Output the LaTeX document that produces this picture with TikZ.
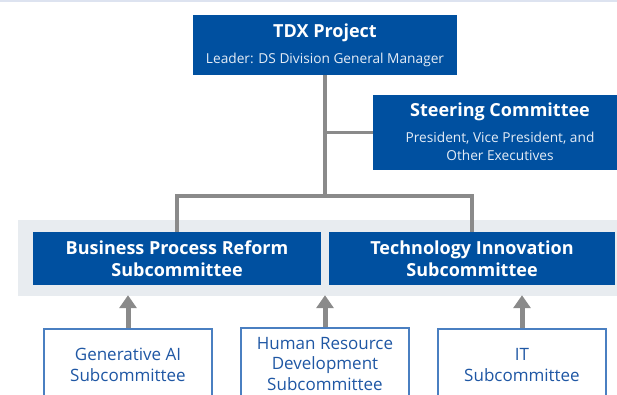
\documentclass[tikz,border=0pt]{standalone}
\usepackage{fontspec}
\setmainfont{Open Sans}
\usetikzlibrary{arrows.meta}
\definecolor{boxblue}{HTML}{0050A0}
\definecolor{bandgray}{HTML}{E8ECF0}
\definecolor{linegray}{HTML}{8A8A8A}
\definecolor{edgeblue}{HTML}{4A7FC1}
\definecolor{textblue}{HTML}{1F57A4}
\definecolor{subwhite}{HTML}{E4ECF6}
\definecolor{topline}{HTML}{DDE3F0}
\tikzset{
  bluebox/.style={fill=boxblue, draw=none, text=white, align=center, inner sep=0pt},
  subbox/.style={draw=edgeblue, line width=1.6bp, fill=white, text=textblue, align=center,
    minimum width=168bp, minimum height=72bp, inner sep=0pt, font=\fontsize{17bp}{20.5bp}\selectfont},
  conn/.style={draw=linegray, line width=3.5bp},
  uparrow/.style={draw=linegray, line width=5bp, -{Triangle[width=17bp,length=13bp]}},
  boldtitle/.style={font=\bfseries\fontsize{18bp}{22bp}\selectfont},
}
\begin{document}
\begin{tikzpicture}[x=1bp,y=-1bp]
\useasboundingbox (0,0) rectangle (617,394);
\fill[topline] (0,0) rectangle (617,1.5);
% band
\node[fill=bandgray, minimum width=599bp, minimum height=76bp, inner sep=0pt] (band) at (317.5,258) {};
% top box
\node[bluebox, minimum width=264bp, minimum height=60bp] (tdx) at (325,45) {};
\node[text=white, boldtitle] (tdxt) at (325,33) {TDX Project};
\node[text=subwhite, font=\fontsize{13.7bp}{16bp}\selectfont] (tdxs) at (325,60) {Leader: DS Division General Manager};
% steering
\node[bluebox, minimum width=244bp, minimum height=75bp] (steer) at (495,132.5) {};
\node[text=white, boldtitle] (steert) at (500,112) {Steering Committee};
\node[text=subwhite, align=center, font=\fontsize{13.7bp}{18bp}\selectfont] (steers) at (500,146) {President, Vice President, and\\Other Executives};
% subcommittees
\node[bluebox, minimum width=288bp, minimum height=53bp, boldtitle] (bpr) at (177,258.5) {Business Process Reform\\Subcommittee};
\node[bluebox, minimum width=286bp, minimum height=53bp, boldtitle] (ti) at (472,258.5) {Technology Innovation\\Subcommittee};
% bottom boxes
\node[subbox] (gen) at (128,365) {Generative AI\\Subcommittee};
\node[subbox] (hr) at (325,364) {Human Resource\\Development\\Subcommittee};
\node[subbox] (it) at (522,365) {IT\\Subcommittee};
% connectors
\coordinate (j) at (325,196);
\draw[conn] (tdx.south) -- (j);
\draw[conn] (bpr.north) |- (j) -| (ti.north);
\draw[conn] (tdx.south |- steer.west) -- (steer.west);
\draw[uparrow] (gen.north) -- ([yshift=1bp]gen.north |- band.south);
\draw[uparrow] (hr.north) -- ([yshift=1bp]hr.north |- band.south);
\draw[uparrow] (it.north) -- ([yshift=1bp]it.north |- band.south);
\end{tikzpicture}
\end{document}
